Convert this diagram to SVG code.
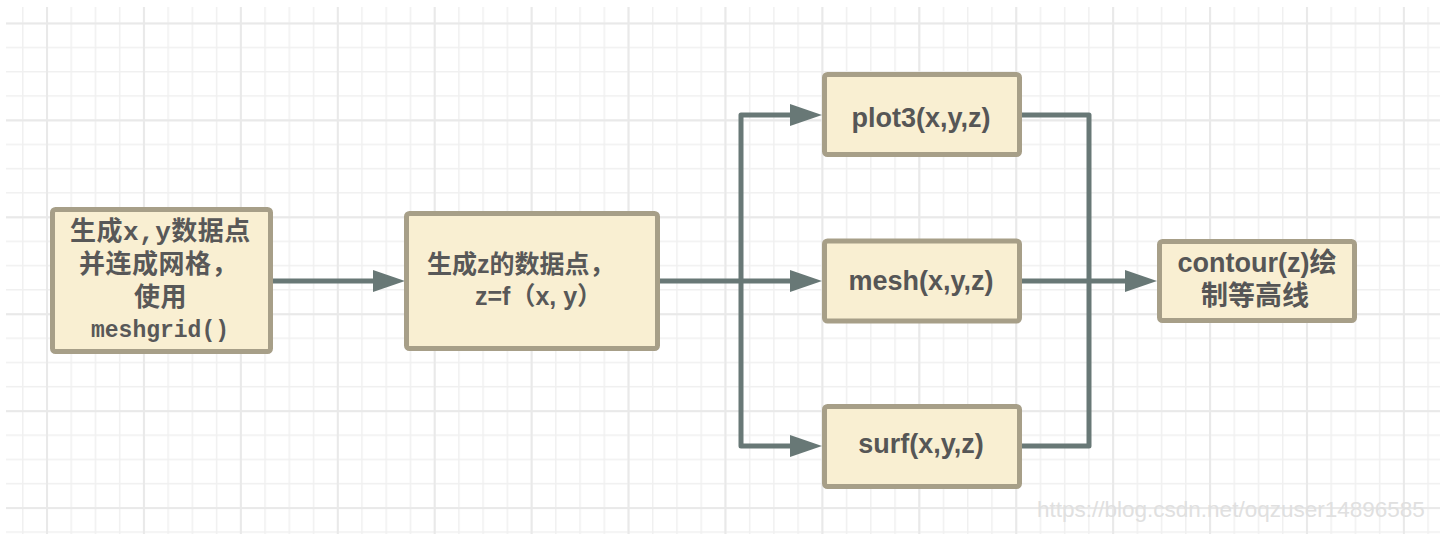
<svg xmlns="http://www.w3.org/2000/svg" width="1452" height="534" viewBox="0 0 1452 534">
<style>
.box{fill:#f9efd2;stroke:#a79f88;stroke-width:5}
.lbl{font-family:"Liberation Sans","Noto Sans CJK SC",sans-serif;font-weight:bold;font-size:27px;fill:#565656}
.mono{font-family:"Liberation Mono","Noto Sans CJK SC",monospace;font-weight:bold;font-size:26px;fill:#585858}
.cn{font-family:"Liberation Sans","Noto Sans CJK SC",sans-serif;font-weight:bold;font-size:25px;fill:#585858}
.con{fill:none;stroke:#687876;stroke-width:5;stroke-linejoin:round}
.wm{font-family:"Liberation Sans",Arial,sans-serif;font-size:22.5px;fill:#e0e0e0}
</style>
<defs>
<pattern id="minor" patternUnits="userSpaceOnUse" x="22" y="22.5" width="24.23" height="24.23">
<rect x="0" y="0" width="1.5" height="24.23" fill="#f0f0f0"/>
<rect x="0" y="0" width="24.23" height="1.5" fill="#f0f0f0"/>
</pattern>
<pattern id="major" patternUnits="userSpaceOnUse" x="46" y="22.5" width="96.92" height="96.92">
<rect x="0" y="0" width="2" height="96.92" fill="#e9e9e9"/>
<rect x="0" y="0" width="96.92" height="2" fill="#e9e9e9"/>
</pattern>
<marker id="arr" viewBox="0 0 32 22" refX="0" refY="11" markerWidth="32" markerHeight="22" markerUnits="userSpaceOnUse" orient="auto-start-reverse">
<path d="M0,0 L32,11 L0,22 z" fill="#687876"/>
</marker>
</defs>
<rect width="1452" height="534" fill="#ffffff"/>
<g id="grid">
<rect x="6" y="7" width="1434" height="527" fill="url(#minor)"/>
<rect x="6" y="7" width="1434" height="527" fill="url(#major)"/>
</g>
<g id="connectors">
<path class="con" d="M273,281 H373" marker-end="url(#arr)"/>
<path class="con" d="M660,281 H790" marker-end="url(#arr)"/>
<path class="con" d="M790,115 H741 V446 H790" marker-start="url(#arr)" marker-end="url(#arr)"/>
<path class="con" d="M1022,115 H1089 V446 H1022"/>
<path class="con" d="M1022,281 H1125" marker-end="url(#arr)"/>
</g>
<g id="node-meshgrid">
<rect class="box" x="52.5" y="209.5" width="218" height="142" rx="3"/>
<text class="mono" x="70" y="240" letter-spacing="0.5">生成x,y数据点</text>
<text class="mono" x="79" y="273" letter-spacing="0.5">并连成网格，</text>
<text class="mono" x="134" y="306" letter-spacing="0.5">使用</text>
<text class="mono" x="160" y="337" text-anchor="middle" style="font-size:23px">meshgrid()</text>
</g>
<g id="node-z">
<rect class="box" x="406.5" y="213.5" width="251" height="135" rx="3"/>
<text class="cn" x="427" y="273">生成z的数据点，</text>
<text class="cn" x="475" y="305">z=f（x, y）</text>
</g>
<g id="node-plot3">
<rect class="box" x="824.5" y="74.5" width="195" height="80" rx="3"/>
<text class="lbl" x="921" y="127" text-anchor="middle">plot3(x,y,z)</text>
</g>
<g id="node-mesh">
<rect class="box" x="824.5" y="241" width="195" height="80" rx="3"/>
<text class="lbl" x="921" y="290" text-anchor="middle">mesh(x,y,z)</text>
</g>
<g id="node-surf">
<rect class="box" x="824.5" y="406.5" width="195" height="80" rx="3"/>
<text class="lbl" x="921" y="453" text-anchor="middle">surf(x,y,z)</text>
</g>
<g id="node-contour">
<rect class="box" x="1159.5" y="241.5" width="195" height="79" rx="3"/>
<text class="lbl" x="1257" y="272" text-anchor="middle">contour(z)绘</text>
<text class="lbl" x="1255" y="305" text-anchor="middle">制等高线</text>
</g>
<text class="wm" x="1037" y="517">https://blog.csdn.net/oqzuser14896585</text>
</svg>
